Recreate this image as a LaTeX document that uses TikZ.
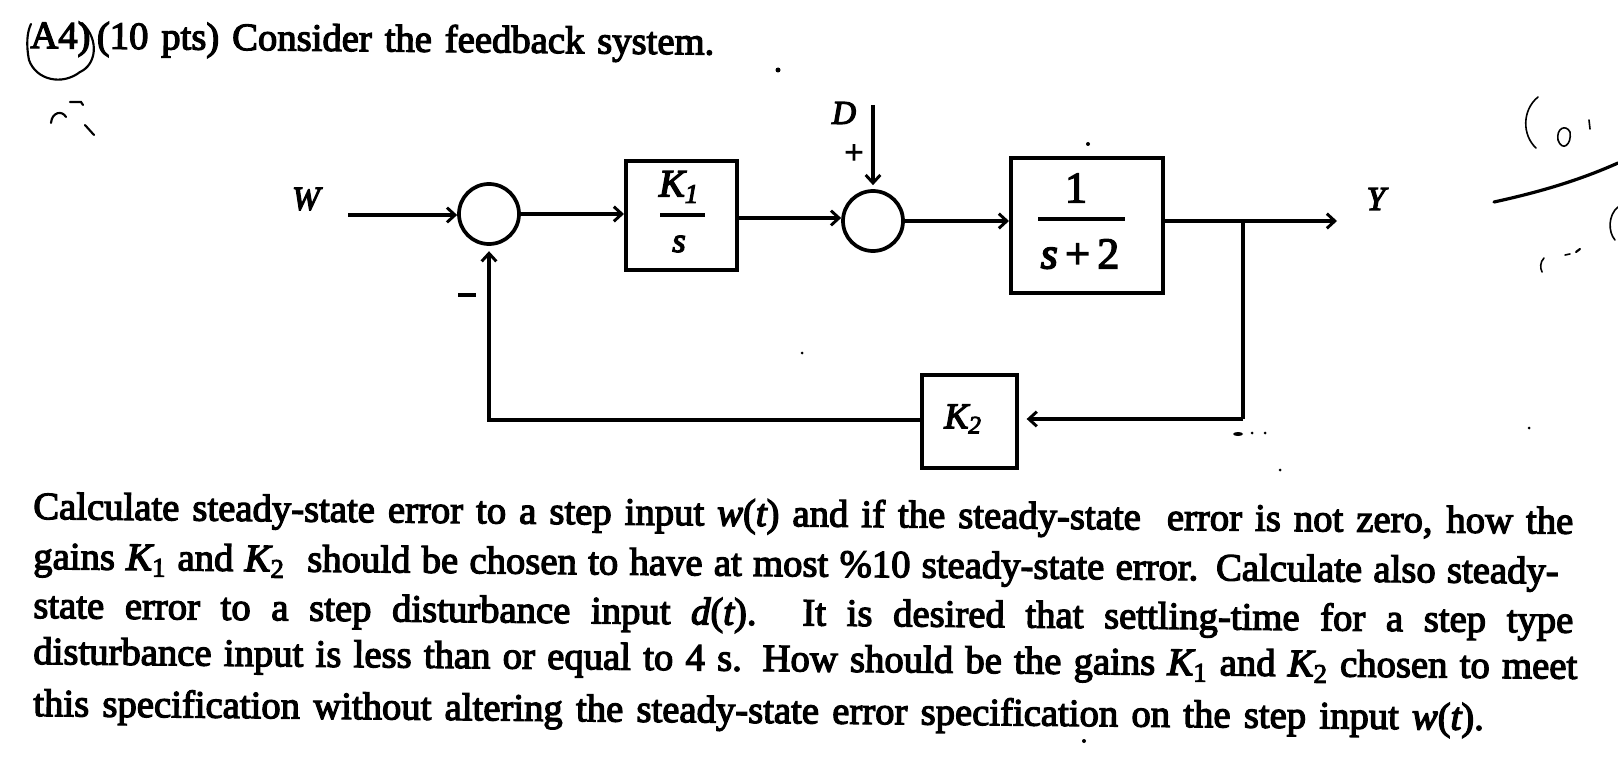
\documentclass[tikz,border=0pt]{standalone}
\usepackage{fontspec}
\setmainfont[AutoFakeBold=3.2]{Liberation Serif}
\newfontface\bif[FakeBold=3.6]{Liberation Serif Italic}
\usetikzlibrary{arrows.meta}
\newcommand{\ti}[1]{{\bif #1}}
\newcommand{\sbs}[1]{\textsubscript{\bfseries\upshape #1}}
\tikzset{
  x=0.75pt,y=-0.75pt,
  line/.style={line width=2.6pt,black},
  arr/.style={draw=black,line width=2.6pt,-{Straight Barb[length=6pt,width=11pt,line width=2.2pt]}},
  block/.style={draw=black,line width=3pt,inner sep=0pt,anchor=north west},
  junction/.style={draw=black,line width=2.8pt,circle,minimum size=45pt,inner sep=0pt},
  lbl/.style={inner sep=0pt,font=\fontsize{25}{26}\selectfont\bif},
  para/.style={inner sep=0pt,anchor=base west,rotate=-0.55,font=\fontsize{29}{32}\selectfont\bfseries},
  hand/.style={draw=black,line width=1.6pt,line cap=round},
  speck/.style={fill=black,draw=none}
}
\newcommand{\fitline}[2]{\makebox[#1][s]{#2}}
\begin{document}
\begin{tikzpicture}
\useasboundingbox (0,0) rectangle (1618,763);
\fill[white] (0,0) rectangle (1618,763);

% heading
\node[para] (head) at (30,48) {\fitline{513pt}{A4)\,(10 pts) Consider the feedback system.}};

% blocks
\node[junction] (sum1) at (489,214) {};
\node[junction] (sum2) at (873,221) {};
\node[block,minimum width=83pt,minimum height=82pt] (k1) at (624,159) {};
\node[block,minimum width=114pt,minimum height=101pt] (plant) at (1009,156) {};
\node[block,minimum width=71pt,minimum height=70pt] (k2) at (920,373) {};

% block texts
\node[lbl,font=\fontsize{29}{30}\selectfont\bif] (k1num) at (679,187) {K\sbs{1}};
\draw[line] (660,215) -- (705,215);
\node[lbl,font=\fontsize{26}{26}\selectfont\bif] (k1den) at (679,244) {s};
\node[inner sep=0pt,font=\fontsize{33}{34}\selectfont\bfseries] (pnum) at (1076,188) {1};
\draw[line,line width=3pt] (1038,219) -- (1125,219);
\node[inner sep=0pt,font=\fontsize{33}{34}\selectfont\bfseries] (pden) at (1080,254) {\ti{s}\,+\,2};
\node[lbl,font=\fontsize{27}{28}\selectfont\bif] (k2t) at (963,419) {K\sbs{2}};

% labels
\node[lbl] (W) at (306,199) {W};
\node[lbl] (D) at (844,113) {D};
\node[lbl] (Y) at (1376,199) {Y};
\node[inner sep=0pt,font=\fontsize{25}{26}\selectfont\bfseries] (plus) at (854,154) {+};
\node[draw=none,fill=black,inner sep=0pt,minimum width=13pt,minimum height=3.5pt] (minus) at (467,295) {};

% connectors
\coordinate (wstart) at (348,215);
\coordinate (dstart) at (873,105);
\coordinate (yend) at (1337,221);
\coordinate (branch) at (1243,221);
\coordinate (corner) at (1243,419);
\draw[arr] (wstart) -- (sum1.west |- wstart);
\draw[arr] (sum1.east) -- (k1.west |- sum1.east);
\draw[arr] (k1.east |- 0,218) -- (sum2.west |- 0,218);
\draw[arr] (sum2.east) -- (plant.west |- sum2.east);
\draw[arr] (dstart) -- ([yshift=3pt]sum2.north);
\draw[line] (plant.east |- branch) -- (branch);
\draw[arr] (branch) -- (yend);
\draw[line] (branch) -- (corner);
\draw[arr] (corner) -- ([xshift=6pt]k2.east |- corner);
\draw[arr] (k2.west |- 0,420) -| ([yshift=-4pt]sum1.south);

% question text
\node[para] (l1) at (33,519) {\fitline{1155pt}{Calculate steady-state error to a step input \ti{w}(\ti{t}) and if the steady-state\ \ error is not zero, how the}};
\node[para] (l2) at (33,569) {\fitline{1144pt}{gains \ti{K}\sbs{1} and \ti{K}\sbs{2}\ \ should be chosen to have at most \%10 steady-state error. Calculate also steady-}};
\node[para] (l3) at (33,618) {\fitline{1155pt}{state error to a step disturbance input \ti{d}(\ti{t}). It is desired that settling-time for a step type}};
\node[para] (l4) at (33,664) {\fitline{1158pt}{disturbance input is less than or equal to 4 s. How should be the gains \ti{K}\sbs{1} and \ti{K}\sbs{2} chosen to meet}};
\node[para] (l5) at (33,716) {\fitline{1088pt}{this specification without altering the steady-state error specification on the step input \ti{w}(\ti{t}).}};

% handwriting
\draw[hand] (82,23) .. controls (100,40) and (96,65) .. (80,72) .. controls (62,86) and (36,80) .. (29,60) .. controls (26,45) and (27,32) .. (31,24);
\draw[hand] (51,123) .. controls (52,112) and (62,110) .. (66,117);
\draw[hand] (70,102) -- (81,102) -- (83,105);
\draw[hand] (85,125) -- (94,135);
\draw[hand,line width=1.2pt] (1538,97) .. controls (1522,110) and (1522,135) .. (1536,148);
\draw[hand,line width=1.2pt] (1558,140) .. controls (1556,128) and (1566,124) .. (1570,132) .. controls (1572,145) and (1562,152) .. (1558,140);
\draw[hand,line width=1.2pt] (1589,120) -- (1590,129);
\draw[hand,line width=2.4pt] (1494,202) .. controls (1540,192) and (1580,180) .. (1618,163);
\draw[hand,line width=1.2pt] (1618,207) .. controls (1608,215) and (1608,232) .. (1615,240);
\draw[hand,line width=1.2pt] (1544,258) .. controls (1540,262) and (1540,268) .. (1542,272);
\draw[hand,line width=1.2pt] (1565,255) -- (1570,254);
\draw[hand,line width=1.6pt] (1576,252) -- (1580,249);

% scan specks
\fill[speck] (778,70) circle (2.5);
\fill[speck] (1088,144) circle (2);
\fill[speck] (1238,434) ellipse (5 and 2);
\fill[speck] (1252,433) circle (1.5);
\fill[speck] (1265,433) circle (1.5);
\fill[speck] (1529,428) circle (1.5);
\fill[speck] (1280,470) circle (1.5);
\fill[speck] (802,353) circle (1.5);
\fill[speck] (1084,741) circle (2);
\end{tikzpicture}
\end{document}
